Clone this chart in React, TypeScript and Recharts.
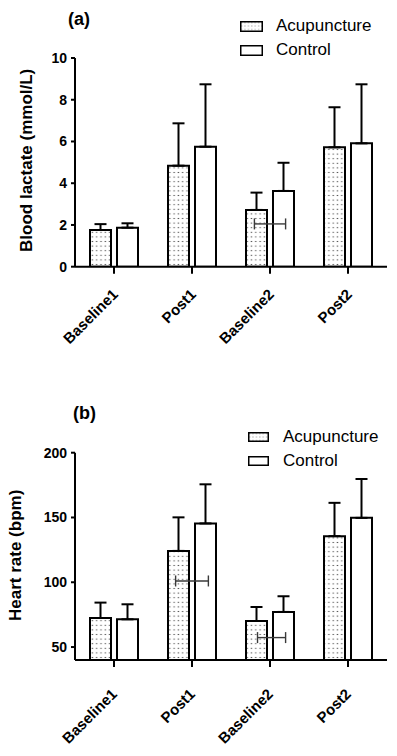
import React from 'react';
import { ComposedChart, Bar, ErrorBar, XAxis, YAxis, Scatter, Legend } from 'recharts';

const FONT = '"Liberation Sans", Arial, Helvetica, sans-serif';

const categories = ['Baseline1', 'Post1', 'Baseline2', 'Post2'];
const seriesNames = ['Acupuncture', 'Control'];

// Panel (a) blood lactate (mmol/L): means and upper error
const lactateAcupuncture = [1.76, 4.84, 2.72, 5.72];
const lactateAcupunctureSD = [0.28, 2.03, 0.83, 1.92];
const lactateControl = [1.87, 5.75, 3.63, 5.91];
const lactateControlSD = [0.21, 2.99, 1.35, 2.83];
const lactateTicks = [0, 2, 4, 6, 8, 10];
const lactateDomain = [0, 10];

// Panel (b) heart rate (bpm)
const heartAcupuncture = [72.4, 124.2, 70.1, 135.6];
const heartAcupunctureSD = [11.9, 25.9, 10.8, 25.7];
const heartControl = [71.4, 145.4, 77.1, 149.7];
const heartControlSD = [11.6, 30.2, 12.1, 30.0];
const heartTicks = [50, 100, 150, 200];
const heartDomain = [40, 200];

// Grey horizontal markers (position in category units, value, half-width in category units)
const lactateMarkerX = [2.5];
const lactateMarkerY = [2.05];
const lactateMarkerHalf = [0.2];
const heartMarkerX = [1.5, 2.52];
const heartMarkerY = [101.0, 57.3];
const heartMarkerHalf = [0.21, 0.18];

const buildData = (acu: number[], acuSD: number[], ctrl: number[], ctrlSD: number[]) =>
  categories.map((name, i) => ({
    name,
    acu: acu[i],
    acuErr: [0, acuSD[i]],
    ctrl: ctrl[i],
    ctrlErr: [0, ctrlSD[i]],
  }));

const buildMarkers = (xs: number[], ys: number[], hs: number[]) =>
  xs.map((x, i) => ({ x, y: ys[i], xe: hs[i] }));

const lactateData = buildData(lactateAcupuncture, lactateAcupunctureSD, lactateControl, lactateControlSD);
const heartData = buildData(heartAcupuncture, heartAcupunctureSD, heartControl, heartControlSD);
const lactateMarkers = buildMarkers(lactateMarkerX, lactateMarkerY, lactateMarkerHalf);
const heartMarkers = buildMarkers(heartMarkerX, heartMarkerY, heartMarkerHalf);

const EmptyShape = () => <g />;

const XTick = (props: any) => {
  const { x, y, payload, ox, oy } = props;
  return (
    <g transform={`translate(${x + ox},${y + oy})`}>
      <text
        textAnchor="end"
        transform="rotate(-45)"
        fontFamily={FONT}
        fontSize={15}
        fontWeight="bold"
        fill="#000"
      >
        {payload.value}
      </text>
    </g>
  );
};

const YLabel = (props: any) => {
  const { viewBox, text, cx, shift } = props;
  const cy = viewBox.y + viewBox.height / 2 + (shift || 0);
  return (
    <text
      x={cx}
      y={cy}
      transform={`rotate(-90, ${cx}, ${cy})`}
      textAnchor="middle"
      dominantBaseline="central"
      fontFamily={FONT}
      fontSize={17}
      fontWeight="bold"
      fill="#000"
    >
      {text}
    </text>
  );
};

const makeLegend = (boxW: number, boxH: number, gap: number) => (props: any) => {
  const payload = (props.payload || []).filter((p: any) => p.type !== 'none');
  const items = payload.length
    ? payload.map((p: any) => ({ name: p.value, key: p.dataKey }))
    : seriesNames.map((n, i) => ({ name: n, key: i === 0 ? 'acu' : 'ctrl' }));
  return (
    <div style={{ fontFamily: FONT, fontSize: 17, color: '#000' }}>
      {items.map((it: any, i: number) => (
        <div key={i} style={{ display: 'flex', alignItems: 'center', height: 24, whiteSpace: 'nowrap' }}>
          <svg width={boxW} height={boxH} style={{ display: 'block', marginRight: gap }}>
            <rect
              x={0.75}
              y={0.75}
              width={boxW - 1.5}
              height={boxH - 1.5}
              fill={it.key === 'acu' ? 'url(#legendDots)' : '#fff'}
              stroke="#000"
              strokeWidth={1.5}
            />
          </svg>
          <span>{it.name}</span>
        </div>
      ))}
    </div>
  );
};

type PanelProps = {
  data: any[];
  markers: any[];
  domain: number[];
  ticks: number[];
  yLabel: string;
  height: number;
  margin: { top: number; right: number; bottom: number; left: number };
  labelX: number;
  labelShift: number;
  tickOx: number;
  tickOy: number;
  legendTop: number;
  legendLeft: number;
  boxW: number;
  boxH: number;
  gap: number;
};

const Panel = (p: PanelProps) => (
  <ComposedChart
    width={397}
    height={p.height}
    data={p.data}
    margin={p.margin}
    barCategoryGap={15}
    barGap={6}
  >
    <XAxis
      dataKey="name"
      type="category"
      height={60}
      interval={0}
      tickSize={7}
      tickMargin={0}
      axisLine={{ stroke: '#000', strokeWidth: 2 }}
      tickLine={{ stroke: '#000', strokeWidth: 2 }}
      tick={(tp: any) => <XTick {...tp} ox={p.tickOx} oy={p.tickOy} />}
    />
    <XAxis xAxisId="num" type="number" dataKey="x" domain={[0, 4]} hide allowDataOverflow />
    <YAxis
      type="number"
      domain={p.domain}
      ticks={p.ticks}
      interval={0}
      width={60}
      tickSize={4}
      tickMargin={4}
      allowDataOverflow
      axisLine={{ stroke: '#000', strokeWidth: 2 }}
      tickLine={{ stroke: '#000', strokeWidth: 2 }}
      tick={{ fontFamily: FONT, fontSize: 14, fontWeight: 'bold', fill: '#000' }}
      label={{ content: (lp: any) => <YLabel {...lp} text={p.yLabel} cx={p.labelX} shift={p.labelShift} /> }}
    />
    <YAxis yAxisId="num" type="number" dataKey="y" domain={p.domain} hide allowDataOverflow />
    <Legend
      layout="vertical"
      align="center"
      verticalAlign="middle"
      content={makeLegend(p.boxW, p.boxH, p.gap)}
      wrapperStyle={{ top: p.legendTop, left: p.legendLeft, width: 150, height: 48 }}
    />
    <Bar
      dataKey="acu"
      name={seriesNames[0]}
      fill="url(#dotsA)"
      stroke="#000"
      strokeWidth={2}
      isAnimationActive={false}
    >
      <ErrorBar dataKey="acuErr" direction="y" width={6} stroke="#000" strokeWidth={2} />
    </Bar>
    <Bar
      dataKey="ctrl"
      name={seriesNames[1]}
      fill="#fff"
      stroke="#000"
      strokeWidth={2}
      isAnimationActive={false}
    >
      <ErrorBar dataKey="ctrlErr" direction="y" width={6} stroke="#000" strokeWidth={2} />
    </Bar>
    <Scatter
      data={p.markers}
      xAxisId="num"
      yAxisId="num"
      dataKey="y"
      shape={EmptyShape}
      legendType="none"
      isAnimationActive={false}
    >
      <ErrorBar dataKey="xe" direction="x" width={5.5} stroke="#3a3a3a" strokeWidth={1.4} />
    </Scatter>
  </ComposedChart>
);

export default function App() {
  return (
    <div style={{ position: 'absolute', left: 0, top: 0, width: 397, height: 756, background: '#fff', overflow: 'hidden' }}>
      <svg width={0} height={0} style={{ position: 'absolute' }}>
        <defs>
          <pattern id="dotsA" patternUnits="userSpaceOnUse" width={4.3} height={4.6}>
            <rect width={4.3} height={4.6} fill="#fff" />
            <rect x={1.4} y={1.8} width={1.4} height={1} fill="#555" />
          </pattern>
          <pattern id="legendDots" patternUnits="userSpaceOnUse" width={3.4} height={3.4}>
            <rect width={3.4} height={3.4} fill="#fff" />
            <rect x={1} y={1.2} width={1.2} height={0.9} fill="#999" />
          </pattern>
        </defs>
      </svg>
      <div style={{ position: 'absolute', left: 0, top: 0 }}>
        <Panel
          data={lactateData}
          markers={lactateMarkers}
          domain={lactateDomain}
          ticks={lactateTicks}
          yLabel="Blood lactate (mmol/L)"
          height={370}
          margin={{ top: 58, right: 10, bottom: 43.3, left: 15 }}
          labelX={27}
          labelShift={-2}
          tickOx={5}
          tickOy={21.6}
          legendTop={14}
          legendLeft={240}
          boxW={23}
          boxH={11}
          gap={13}
        />
      </div>
      <div style={{ position: 'absolute', left: 0, top: 370 }}>
        <Panel
          data={heartData}
          markers={heartMarkers}
          domain={heartDomain}
          ticks={heartTicks}
          yLabel="Heart rate (bpm)"
          height={386}
          margin={{ top: 82.7, right: 10, bottom: 36, left: 15 }}
          labelX={15.5}
          labelShift={-1}
          tickOx={4}
          tickOy={28}
          legendTop={55}
          legendLeft={248}
          boxW={21}
          boxH={10}
          gap={14}
        />
      </div>
      <svg width={397} height={756} style={{ position: 'absolute', left: 0, top: 0, pointerEvents: 'none' }}>
        <text x={68} y={24.5} fontFamily={FONT} fontSize={18} fontWeight="bold" fill="#000">(a)</text>
        <text x={73} y={418.5} fontFamily={FONT} fontSize={18} fontWeight="bold" fill="#000">(b)</text>
      </svg>
    </div>
  );
}
